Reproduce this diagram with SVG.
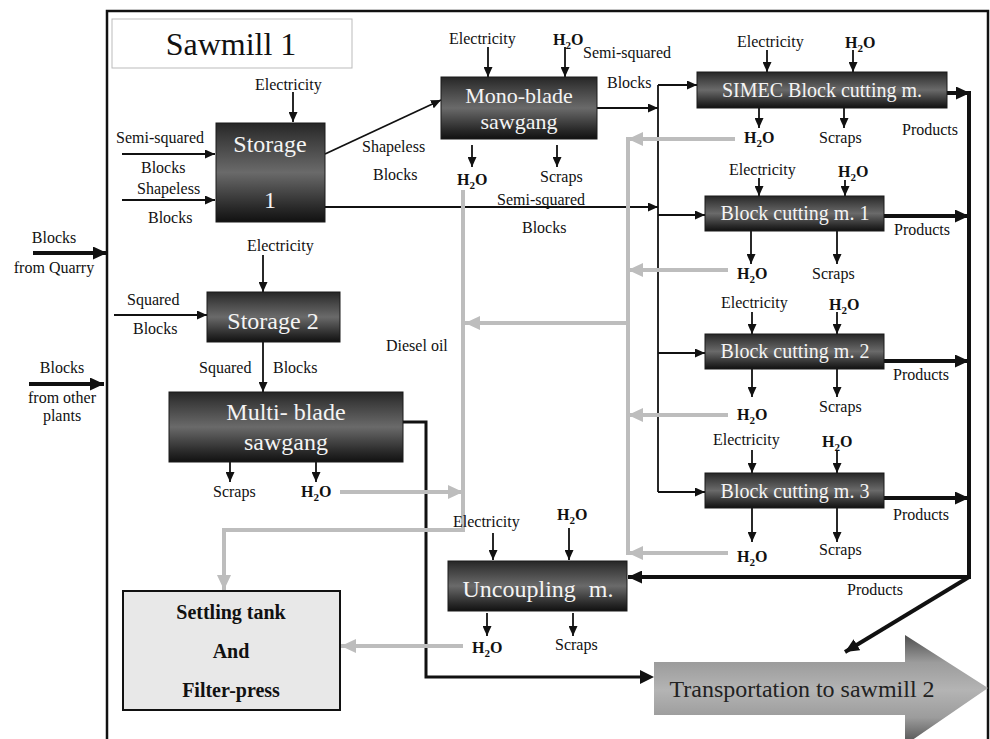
<svg xmlns="http://www.w3.org/2000/svg" width="990" height="739" viewBox="0 0 990 739">
<defs>
<style>
.lbl{font-family:"Liberation Serif","Times New Roman",serif;font-size:16px;fill:#111}
.h{font-weight:bold}
.box{fill:url(#dark);stroke:#1a1a1a;stroke-width:1}
.bt{font-family:"Liberation Serif","Times New Roman",serif;fill:#f4f4f4;text-anchor:middle}
.a{stroke:#111;stroke-width:1.8;fill:none;marker-end:url(#ah)}
.ln{stroke:#111;stroke-width:1.8;fill:none}
.t{stroke:#111;stroke-width:4;fill:none;marker-end:url(#aht)}
.tl{stroke:#111;stroke-width:4;fill:none}
.m{stroke:#111;stroke-width:3;fill:none}
.g{stroke:#bdbdbd;stroke-width:4;fill:none}
.ga{stroke:#bdbdbd;stroke-width:4;fill:none;marker-end:url(#ahg)}
</style>
<linearGradient id="dark" x1="0" y1="0" x2="0" y2="1">
<stop offset="0" stop-color="#262626"/>
<stop offset="0.15" stop-color="#3c3c3c"/>
<stop offset="0.5" stop-color="#6a6a6a"/>
<stop offset="0.85" stop-color="#2a2a2a"/>
<stop offset="1" stop-color="#111"/>
</linearGradient>
<linearGradient id="tr" gradientUnits="userSpaceOnUse" x1="0" y1="635" x2="0" y2="745">
<stop offset="0" stop-color="#4e4e4e"/>
<stop offset="0.25" stop-color="#9c9c9c"/>
<stop offset="0.5" stop-color="#b4b4b4"/>
<stop offset="0.75" stop-color="#9c9c9c"/>
<stop offset="1" stop-color="#4e4e4e"/>
</linearGradient>
<marker id="ah" markerUnits="userSpaceOnUse" markerWidth="10" markerHeight="9" refX="10" refY="4.5" orient="auto">
<path d="M0,0 L10,4.5 L0,9 Z" fill="#111"/>
</marker>
<marker id="aht" markerUnits="userSpaceOnUse" markerWidth="14" markerHeight="13" refX="14" refY="6.5" orient="auto">
<path d="M0,0 L14,6.5 L0,13 Z" fill="#111"/>
</marker>
<marker id="ahg" markerUnits="userSpaceOnUse" markerWidth="15" markerHeight="14" refX="15" refY="7" orient="auto">
<path d="M0,0 L15,7 L0,14 Z" fill="#bdbdbd"/>
</marker>
</defs>
<rect width="990" height="739" fill="#fff"/>
<!-- frame -->
<path d="M107,745 L107,11 L988,11 L988,745" fill="none" stroke="#111" stroke-width="2.5"/>

<g id="title">
<rect x="112" y="19" width="240" height="49" fill="#fff" stroke="#bbb" stroke-width="1"/>
<text x="231" y="55" font-family="Liberation Serif,serif" font-size="32" text-anchor="middle" fill="#111">Sawmill 1</text>
</g>

<g id="connectors">
<!-- inputs -->
<line class="t" x1="33" y1="253" x2="107" y2="253"/>
<line class="t" x1="29" y1="384" x2="104" y2="384"/>
<line class="a" x1="122" y1="154" x2="215" y2="154"/>
<line class="a" x1="122" y1="200" x2="215" y2="200"/>
<line class="a" x1="114" y1="315" x2="207" y2="315"/>
<!-- vertical small arrows -->
<line class="a" x1="293" y1="92" x2="293" y2="122"/>
<line class="a" x1="263" y1="255" x2="263" y2="292"/>
<line class="a" x1="263" y1="342" x2="263" y2="392"/>
<line class="a" x1="488" y1="47" x2="488" y2="77"/>
<line class="a" x1="565" y1="47" x2="565" y2="77"/>
<line class="a" x1="767" y1="50" x2="767" y2="72"/>
<line class="a" x1="853" y1="50" x2="853" y2="72"/>
<line class="a" x1="759" y1="108" x2="759" y2="128"/>
<line class="a" x1="844" y1="108" x2="844" y2="128"/>
<line class="a" x1="472" y1="145" x2="472" y2="167"/>
<line class="a" x1="557" y1="145" x2="557" y2="167"/>
<line class="a" x1="759" y1="178" x2="759" y2="196"/>
<line class="a" x1="845" y1="180" x2="845" y2="196"/>
<line class="a" x1="751" y1="231" x2="751" y2="264"/>
<line class="a" x1="837" y1="231" x2="837" y2="264"/>
<line class="a" x1="752" y1="312" x2="752" y2="334"/>
<line class="a" x1="837" y1="312" x2="837" y2="334"/>
<line class="a" x1="752" y1="369" x2="752" y2="397"/>
<line class="a" x1="837" y1="369" x2="837" y2="397"/>
<line class="a" x1="752" y1="450" x2="752" y2="473"/>
<line class="a" x1="837" y1="450" x2="837" y2="473"/>
<line class="a" x1="752" y1="508" x2="752" y2="542"/>
<line class="a" x1="837" y1="508" x2="837" y2="542"/>
<line class="a" x1="230" y1="462" x2="230" y2="482"/>
<line class="a" x1="316" y1="462" x2="316" y2="482"/>
<line class="a" x1="493" y1="533" x2="493" y2="560"/>
<line class="a" x1="569" y1="528" x2="569" y2="560"/>
<line class="a" x1="487" y1="613" x2="487" y2="636"/>
<line class="a" x1="573" y1="613" x2="573" y2="636"/>
<!-- flows -->
<line class="a" x1="325" y1="154" x2="441" y2="100"/>
<line class="a" x1="325" y1="207" x2="658" y2="207"/>
<line class="a" x1="597" y1="108" x2="658" y2="108"/>
<line class="ln" x1="658" y1="85" x2="658" y2="492"/>
<line class="a" x1="658" y1="85" x2="697" y2="85"/>
<line class="a" x1="658" y1="215" x2="705" y2="215"/>
<line class="a" x1="658" y1="353" x2="705" y2="353"/>
<line class="a" x1="658" y1="492" x2="705" y2="492"/>
<path class="m" d="M403,422 L426,422 L426,677 L640,677"/>
<path d="M640,670 L654,677 L640,684 Z" fill="#111"/>
<!-- products -->
<line class="t" x1="947" y1="93" x2="970" y2="93"/>
<line class="t" x1="884" y1="216" x2="969" y2="216"/>
<line class="t" x1="884" y1="361" x2="969" y2="361"/>
<line class="t" x1="884" y1="498" x2="969" y2="498"/>
<line class="tl" x1="969" y1="91" x2="969" y2="579"/>
<line class="t" x1="969" y1="577" x2="628" y2="577"/>
<line class="t" x1="969" y1="577" x2="845" y2="652"/>
<!-- water -->
<line class="ga" x1="735" y1="139" x2="628" y2="139"/>
<line class="g" x1="628" y1="137" x2="628" y2="555"/>
<line class="ga" x1="728" y1="270" x2="628" y2="270"/>
<line class="ga" x1="728" y1="415" x2="628" y2="415"/>
<line class="ga" x1="728" y1="553" x2="628" y2="553"/>
<line class="ga" x1="628" y1="323" x2="465" y2="323"/>
<line class="g" x1="463" y1="190" x2="463" y2="530"/>
<line class="ga" x1="340" y1="492" x2="463" y2="492"/>
<path class="ga" d="M465,530 L224,530 L224,590"/>
<line class="ga" x1="463" y1="646" x2="341" y2="646"/>
</g>

<g id="storage1">
<rect class="box" x="216" y="123" width="109" height="99"/>
<text class="bt" x="270" y="152" font-size="24">Storage</text>
<text class="bt" x="270" y="208" font-size="24">1</text>
</g>
<g id="storage2">
<rect class="box" x="207" y="292" width="133" height="50"/>
<text class="bt" x="273" y="329" font-size="24">Storage 2</text>
</g>
<g id="multiblade">
<rect class="box" x="169" y="392" width="234" height="70"/>
<text class="bt" x="286" y="420" font-size="24">Multi- blade</text>
<text class="bt" x="286" y="450" font-size="24">sawgang</text>
</g>
<g id="monoblade">
<rect class="box" x="441" y="77" width="156" height="62"/>
<text class="bt" x="519" y="103" font-size="22">Mono-blade</text>
<text class="bt" x="519" y="129" font-size="22">sawgang</text>
</g>
<g id="simec">
<rect class="box" x="697" y="72" width="250" height="36"/>
<text class="bt" x="822" y="97" font-size="20">SIMEC Block cutting m.</text>
</g>
<g id="bcm1">
<rect class="box" x="705" y="196" width="179" height="35"/>
<text class="bt" x="795" y="220" font-size="20">Block cutting m. 1</text>
</g>
<g id="bcm2">
<rect class="box" x="705" y="334" width="179" height="35"/>
<text class="bt" x="795" y="358" font-size="20">Block cutting m. 2</text>
</g>
<g id="bcm3">
<rect class="box" x="705" y="473" width="179" height="35"/>
<text class="bt" x="795" y="498" font-size="20">Block cutting m. 3</text>
</g>
<g id="uncoupling">
<rect class="box" x="448" y="561" width="179" height="50"/>
<text class="bt" x="538" y="597" font-size="24" word-spacing="7">Uncoupling m.</text>
</g>
<g id="settling">
<rect x="123" y="591" width="217" height="119" fill="#e8e8e8" stroke="#111" stroke-width="2"/>
<text x="231" y="619" font-family="Liberation Serif,serif" font-size="20" font-weight="bold" text-anchor="middle" fill="#111">Settling tank</text>
<text x="231" y="658" font-family="Liberation Serif,serif" font-size="20" font-weight="bold" text-anchor="middle" fill="#111">And</text>
<text x="231" y="697" font-family="Liberation Serif,serif" font-size="20" font-weight="bold" text-anchor="middle" fill="#111">Filter-press</text>
</g>
<g id="transport">
<path d="M654,662 L905,662 L905,635 L988,688 L905,745 L905,715 L654,715 Z" fill="url(#tr)"/>
<text x="802" y="697" font-family="Liberation Serif,serif" font-size="24" text-anchor="middle" fill="#222">Transportation to sawmill 2</text>
</g>

<g id="labels" class="lbl">
<text class="lbl" x="54" y="243" text-anchor="middle">Blocks</text>
<text class="lbl" x="54" y="273" text-anchor="middle">from Quarry</text>
<text class="lbl" x="62" y="373" text-anchor="middle">Blocks</text>
<text class="lbl" x="62" y="403" text-anchor="middle">from other</text>
<text class="lbl" x="62" y="421" text-anchor="middle">plants</text>
<text class="lbl" x="116" y="143">Semi-squared</text>
<text class="lbl" x="141" y="173">Blocks</text>
<text class="lbl" x="137" y="194">Shapeless</text>
<text class="lbl" x="148" y="223">Blocks</text>
<text class="lbl" x="127" y="305">Squared</text>
<text class="lbl" x="133" y="334">Blocks</text>
<text class="lbl" x="362" y="152">Shapeless</text>
<text class="lbl" x="373" y="180">Blocks</text>
<text class="lbl" x="497" y="205">Semi-squared</text>
<text class="lbl" x="522" y="233">Blocks</text>
<text class="lbl" x="583" y="58">Semi-squared</text>
<text class="lbl" x="607" y="88">Blocks</text>
<text class="lbl" x="199" y="373">Squared</text>
<text class="lbl" x="273" y="373">Blocks</text>
<text class="lbl" x="386" y="351">Diesel oil</text>
<!-- Electricity -->
<text class="lbl" x="255" y="90">Electricity</text>
<text class="lbl" x="247" y="251">Electricity</text>
<text class="lbl" x="449" y="44">Electricity</text>
<text class="lbl" x="737" y="47">Electricity</text>
<text class="lbl" x="729" y="175">Electricity</text>
<text class="lbl" x="721" y="308">Electricity</text>
<text class="lbl" x="713" y="445">Electricity</text>
<text class="lbl" x="453" y="527">Electricity</text>
<!-- Scraps -->
<text class="lbl" x="540" y="182">Scraps</text>
<text class="lbl" x="819" y="143">Scraps</text>
<text class="lbl" x="812" y="279">Scraps</text>
<text class="lbl" x="819" y="412">Scraps</text>
<text class="lbl" x="819" y="555">Scraps</text>
<text class="lbl" x="213" y="497">Scraps</text>
<text class="lbl" x="555" y="650">Scraps</text>
<!-- Products -->
<text class="lbl" x="902" y="135">Products</text>
<text class="lbl" x="894" y="235">Products</text>
<text class="lbl" x="893" y="380">Products</text>
<text class="lbl" x="893" y="520">Products</text>
<text class="lbl" x="847" y="595">Products</text>
<!-- H2O -->
<text class="lbl h" x="553" y="45">H<tspan font-size="11" dy="4">2</tspan><tspan dy="-4">O</tspan></text>
<text class="lbl h" x="845" y="48">H<tspan font-size="11" dy="4">2</tspan><tspan dy="-4">O</tspan></text>
<text class="lbl h" x="744" y="143">H<tspan font-size="11" dy="4">2</tspan><tspan dy="-4">O</tspan></text>
<text class="lbl h" x="457" y="185">H<tspan font-size="11" dy="4">2</tspan><tspan dy="-4">O</tspan></text>
<text class="lbl h" x="838" y="177">H<tspan font-size="11" dy="4">2</tspan><tspan dy="-4">O</tspan></text>
<text class="lbl h" x="737" y="279">H<tspan font-size="11" dy="4">2</tspan><tspan dy="-4">O</tspan></text>
<text class="lbl h" x="829" y="310">H<tspan font-size="11" dy="4">2</tspan><tspan dy="-4">O</tspan></text>
<text class="lbl h" x="737" y="420">H<tspan font-size="11" dy="4">2</tspan><tspan dy="-4">O</tspan></text>
<text class="lbl h" x="822" y="447">H<tspan font-size="11" dy="4">2</tspan><tspan dy="-4">O</tspan></text>
<text class="lbl h" x="737" y="562">H<tspan font-size="11" dy="4">2</tspan><tspan dy="-4">O</tspan></text>
<text class="lbl h" x="301" y="497">H<tspan font-size="11" dy="4">2</tspan><tspan dy="-4">O</tspan></text>
<text class="lbl h" x="557" y="520">H<tspan font-size="11" dy="4">2</tspan><tspan dy="-4">O</tspan></text>
<text class="lbl h" x="472" y="653">H<tspan font-size="11" dy="4">2</tspan><tspan dy="-4">O</tspan></text>
</g>
</svg>
